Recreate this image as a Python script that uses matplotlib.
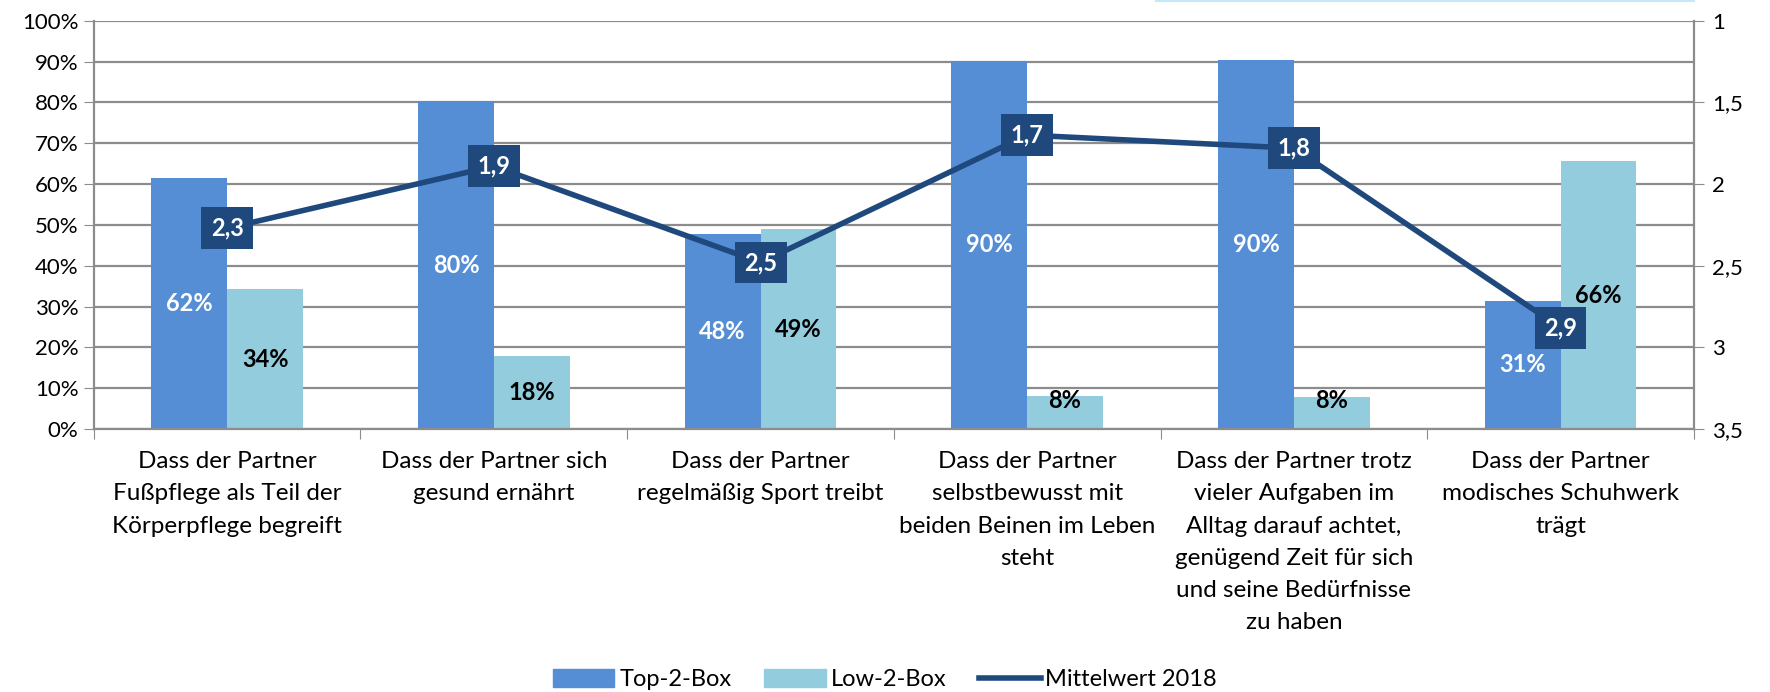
import numpy as np
import matplotlib.pyplot as plt
from matplotlib.lines import Line2D
from matplotlib.patches import Patch

plt.rcParams['font.family'] = ['Lato', 'DejaVu Sans']

categories = [
    "Dass der Partner\nFußpflege als Teil der\nKörperpflege begreift",
    "Dass der Partner sich\ngesund ernährt",
    "Dass der Partner\nregelmäßig Sport treibt",
    "Dass der Partner\nselbstbewusst mit\nbeiden Beinen im Leben\nsteht",
    "Dass der Partner trotz\nvieler Aufgaben im\nAlltag darauf achtet,\ngenügend Zeit für sich\nund seine Bedürfnisse\nzu haben",
    "Dass der Partner\nmodisches Schuhwerk\nträgt",
]
top2 = [61.5, 80.3, 47.8, 90.2, 90.3, 31.4]
low2 = [34.2, 17.9, 48.9, 8.2, 7.8, 65.6]
mean2018 = [2.27, 1.89, 2.48, 1.70, 1.78, 2.88]

c_top = "#558ED5"
c_low = "#93CDDD"
c_line = "#1F497D"
c_grid = "#8C8C8C"

fig = plt.figure(figsize=(17.7, 6.92), dpi=100)
ax = fig.add_axes([0.053, 0.380, 0.904, 0.590])
x = np.arange(len(categories))
w = 0.284

ax.bar(x - w / 2, top2, w, color=c_top, zorder=2)
ax.bar(x + w / 2, low2, w, color=c_low, zorder=2)

for xi, v in zip(x, top2):
    ax.text(xi - w / 2, max(v / 2, 7), f"{round(v)}%", ha="center", va="center",
            color="white", fontsize=17, fontweight="bold", zorder=5)
for xi, v in zip(x, low2):
    ax.text(xi + w / 2, max(v / 2, 7), f"{round(v)}%", ha="center", va="center",
            color="black", fontsize=17, fontweight="bold", zorder=5)

ax.set_xlim(-0.5, len(categories) - 0.5)
ax.set_ylim(0, 100)
ax.set_yticks(np.arange(0, 101, 10))
ax.set_yticklabels([f"{t}%" for t in range(0, 101, 10)])
ax.set_xticks(np.arange(-0.5, len(categories), 1.0), minor=False)
ax.set_xticklabels([])
ax.set_xticks(x, minor=True)
ax.set_xticklabels(categories, minor=True, fontsize=17.5, linespacing=1.66)
ax.tick_params(axis="x", which="minor", length=0, pad=16)
ax.tick_params(axis="x", which="major", length=7, color=c_grid, direction="out")
ax.tick_params(axis="y", length=7, color=c_grid, labelsize=16, pad=4)
ax.grid(axis="y", color=c_grid, linewidth=1.6, zorder=0)
ax.set_axisbelow(True)
for side in ["top", "right"]:
    ax.spines[side].set_visible(False)
for side in ["left", "bottom"]:
    ax.spines[side].set_color(c_grid)
    ax.spines[side].set_linewidth(1.6)

ax2 = ax.twinx()
ax2.plot(x, mean2018, color=c_line, linewidth=4, zorder=4)
ax2.set_ylim(3.5, 1)
ax2.set_yticks([1, 1.5, 2, 2.5, 3, 3.5])
ax2.set_yticklabels(["1", "1,5", "2", "2,5", "3", "3,5"])
ax2.tick_params(axis="y", length=7, color=c_grid, labelsize=16, pad=6)
for side in ["top", "left", "bottom"]:
    ax2.spines[side].set_visible(False)
ax2.spines["right"].set_color(c_grid)
ax2.spines["right"].set_linewidth(1.6)
for xi, v in zip(x, mean2018):
    ax2.text(xi, v, f"{v:.1f}".replace(".", ","), ha="center", va="center",
             color="white", fontsize=17, fontweight="bold", zorder=6,
             bbox=dict(boxstyle="square,pad=0.4", facecolor=c_line, edgecolor="none"))

fig.add_artist(Line2D([0.653, 0.957], [0.999, 0.999], color="#C6E9FA", linewidth=1.5))

handles = [Patch(color=c_top, label="Top-2-Box"),
           Patch(color=c_low, label="Low-2-Box"),
           Line2D([0], [0], color=c_line, linewidth=4, label="Mittelwert 2018")]
fig.legend(handles=handles, loc="center", bbox_to_anchor=(0.5, 0.018), ncol=3,
           frameon=False, fontsize=17, handlelength=2.6, handleheight=0.8,
           handletextpad=0.2, columnspacing=1.4)

fig.savefig("out.png", dpi=100)
